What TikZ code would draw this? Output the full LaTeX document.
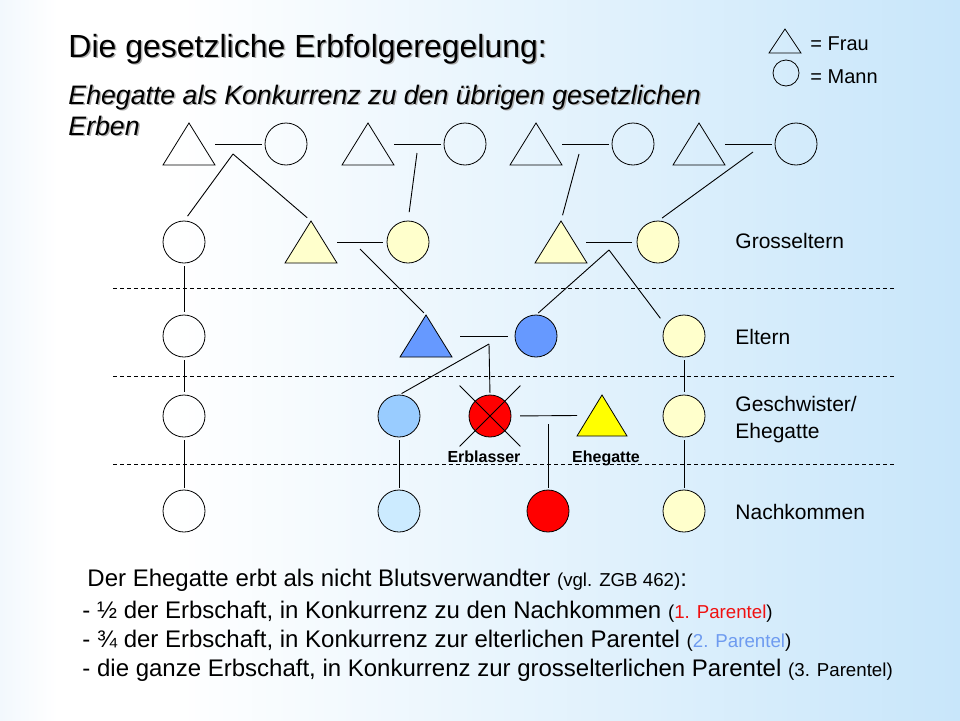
\documentclass[tikz,border=0pt]{standalone}
\usepackage{fontspec}
\setmainfont{Liberation Sans}
\usetikzlibrary{calc}
\definecolor{bgblue}{HTML}{C8E6FA}
\definecolor{bgleft}{HTML}{F2F8FD}
\definecolor{lyellow}{HTML}{FFFFCC}
\definecolor{mblue}{HTML}{6699FF}
\definecolor{sblue}{HTML}{99CCFF}
\definecolor{pblue}{HTML}{CCEBFF}
\definecolor{pred}{HTML}{FF0000}
\definecolor{pyellow}{HTML}{FFFF00}
\definecolor{shadowgrey}{HTML}{B0B0B0}
\definecolor{txtred}{HTML}{F01010}
\definecolor{txtblue}{HTML}{6E9BF0}
\pgfdeclarehorizontalshading{bgshade}{100bp}{color(0bp)=(bgleft); color(25bp)=(bgleft); color(28bp)=(white); color(34bp)=(white); color(75bp)=(bgblue); color(100bp)=(bgblue)}
\newcommand{\shadowtext}[1]{\makebox[0pt][l]{\hspace{1.5pt}\raisebox{-1.5pt}{\textcolor{shadowgrey}{#1}}}#1}
\begin{document}
\begin{tikzpicture}[x=1pt,y=-1pt,
  line width=0.9pt,
  tri/.style={minimum width=52pt, minimum height=42pt, inner sep=0pt, outer sep=0pt,
    append after command={\pgfextra{\let\tn\tikzlastnode
      \draw[line width=0.8pt, line join=miter, fill=#1] (\tn.south west) -- (\tn.north) -- (\tn.south east) -- cycle;}}},
  tri/.default=none,
  pers/.style={circle, draw, line width=0.8pt, minimum size=42pt, inner sep=0pt, outer sep=0pt, fill=#1},
  pers/.default=none,
  conn/.style={line width=0.9pt},
  sep/.style={line width=0.9pt, dash pattern=on 4pt off 3pt},
  lab/.style={anchor=base west, font=\fontsize{21}{25}\selectfont, inner sep=0pt},
  small/.style={anchor=base, font=\bfseries\fontsize{16}{19}\selectfont, inner sep=0pt},
  body/.style={anchor=base west, font=\fontsize{24}{28}\selectfont, inner sep=0pt},
  heading/.style={anchor=base west, inner sep=0pt, font=\fontsize{32}{38}\selectfont},
  subheading/.style={anchor=base west, inner sep=0pt, font=\itshape\fontsize{26.7}{31}\selectfont}
]
\useasboundingbox (0,0) rectangle (960,720);
\shade[shading=bgshade] (0,0) rectangle (960,720);

% title
\node[heading] (title) at (68,57) {\shadowtext{Die gesetzliche Erbfolgeregelung:}};
\node[subheading] (sub1) at (68,104) {\shadowtext{Ehegatte als Konkurrenz zu den übrigen gesetzlichen}};
\node[subheading] (sub2) at (68,135) {\shadowtext{Erben}};

% legend
\node[tri, minimum width=32pt, minimum height=24pt] (legT) at (785,41) {};
\node[pers, minimum size=26pt] (legC) at (786,73) {};
\node[anchor=base west, inner sep=0pt, font=\fontsize{20}{24}\selectfont] (legF) at (810,50) {= Frau};
\node[anchor=base west, inner sep=0pt, font=\fontsize{20}{24}\selectfont] (legM) at (810,83) {= Mann};

% separators
\draw[sep] (113,288) -- (895,288);
\draw[sep] (113,376) -- (895,376);
\draw[sep] (113,464) -- (895,464);

% row 1: great-grandparents
\node[tri] (T1) at (189,144) {};
\node[pers] (C1) at (286,144) {};
\node[tri] (T2) at (368,144) {};
\node[pers] (C2) at (465,144) {};
\node[tri] (T3) at (536,144) {};
\node[pers] (C3) at (633,144) {};
\node[tri] (T4) at (699,144) {};
\node[pers] (C4) at (796,144) {};

% row 2: Grosseltern
\node[pers] (G1) at (184,242) {};
\node[tri=lyellow] (G2) at (311,242) {};
\node[pers=lyellow] (G3) at (408,242) {};
\node[tri=lyellow] (G4) at (561,242) {};
\node[pers=lyellow] (G5) at (658,242) {};

% row 3: Eltern
\node[pers] (E1) at (184,336) {};
\node[tri=mblue] (E2) at (426,336) {};
\node[pers=mblue] (E3) at (536,336) {};
\node[pers=lyellow] (E4) at (684,336) {};

% row 4: Geschwister / Ehegatte
\node[pers] (S1) at (184,416) {};
\node[pers=sblue] (S2) at (399,416) {};
\node[pers=pred] (S3) at (490,416) {};
\node[tri=pyellow, minimum width=50pt, minimum height=41pt] (S4) at (602,415.5) {};
\node[pers=lyellow] (S5) at (684,416) {};

% row 5: Nachkommen
\node[pers] (N1) at (184,511) {};
\node[pers=pblue] (N2) at (399,511) {};
\node[pers=pred] (N3) at (548,511) {};
\node[pers=lyellow] (N4) at (684,511) {};

% marriage lines
\draw[conn, shorten >=3pt] (T1.east) -- (C1.west);
\draw[conn, shorten >=3pt] (T2.east) -- (C2.west);
\draw[conn, shorten >=3pt] (T3.east) -- (C3.west);
\draw[conn, shorten >=3pt] (T4.east) -- (C4.west);
\draw[conn, shorten >=4pt] (G2.east) -- (G3.west);
\draw[conn, shorten <=-1pt, shorten >=5pt] (G4.east) -- (G5.west);
\draw[conn, shorten <=8pt, shorten >=7pt] (E2.east) -- (E3.west);
\draw[conn, shorten <=9pt, shorten >=0pt] (S3.east) -- (S4.west);

% descent points
\coordinate (m1) at (233,154);
\coordinate (m2) at (417,153);
\coordinate (m3) at (579,154);
\coordinate (m4) at (753,152);
\coordinate (m5) at (360,249);
\coordinate (m6) at (609,250);
\coordinate (m7) at (489,344);
\coordinate (m8) at (548,424);

\draw[conn, shorten >=6pt] (m1) -- (G1.north);
\draw[conn, shorten >=5pt] (m1) -- (G2.north);
\draw[conn, shorten >=9pt] (m2) -- (G3.north);
\draw[conn, shorten >=6pt] (m3) -- (G4.north);
\draw[conn, shorten >=5pt] (m4) -- (G5.north);
\draw[conn, shorten >=3pt] (m5) -- (E2.north);
\draw[conn, shorten >=3pt] (m6) -- (E3.north);
\draw[conn, shorten >=9pt] (m6) -- (E4.150);
\draw[conn, shorten >=3pt] (m7) -- (S2.north);
\draw[conn, shorten >=2pt] (m7) -- (S3.north);
\draw[conn, shorten >=2pt] (m8) -- (N3.north);

% vertical lines
\draw[conn, shorten <=3pt, shorten >=3pt] (G1.south) -- (E1.north);
\draw[conn, shorten <=3pt, shorten >=3pt] (E1.south) -- (S1.north);
\draw[conn, shorten <=3pt, shorten >=2pt] (S1.south) -- (N1.north);
\draw[conn, shorten <=3pt, shorten >=3pt] (E4.south) -- (S5.north);
\draw[conn, shorten <=3pt, shorten >=2pt] (S5.south) -- (N4.north);
\draw[conn, shorten <=3pt, shorten >=2pt] (S2.south) -- (N2.north);

% cross on Erblasser
\draw[line width=0.8pt, shorten <=-22pt, shorten >=-22pt] (S3.north west) -- (S3.south east);
\draw[line width=0.8pt, shorten <=-22pt, shorten >=-22pt] (S3.north east) -- (S3.south west);

% small labels
\node[small] (lErb) at (484,462) {Erblasser};
\node[small] (lEhe) at (606,462) {Ehegatte};

% row labels
\node[lab] (rG) at (735,248.5) {Grosseltern};
\node[lab] (rE) at (735,344) {Eltern};
\node[lab] (rS1) at (735,411.5) {Geschwister/};
\node[lab] (rS2) at (735,438.5) {Ehegatte};
\node[lab] (rN) at (735,519.5) {Nachkommen};

% bottom text
\node[body] (b1) at (87,586) {Der Ehegatte erbt als nicht Blutsverwandter {\fontsize{18.7}{22}\selectfont (vgl. ZGB 462)}:};
\node[body] (b2) at (82,618) {- ½ der Erbschaft, in Konkurrenz zu den Nachkommen {\fontsize{18.7}{22}\selectfont(\textcolor{txtred}{1. Parentel})}};
\node[body] (b3) at (82,647) {- ¾ der Erbschaft, in Konkurrenz zur elterlichen Parentel {\fontsize{18.7}{22}\selectfont(\textcolor{txtblue}{2. Parentel})}};
\node[body] (b4) at (82,676) {- die ganze Erbschaft, in Konkurrenz zur grosselterlichen Parentel {\fontsize{18.7}{22}\selectfont(3. Parentel)}};
\end{tikzpicture}
\end{document}
